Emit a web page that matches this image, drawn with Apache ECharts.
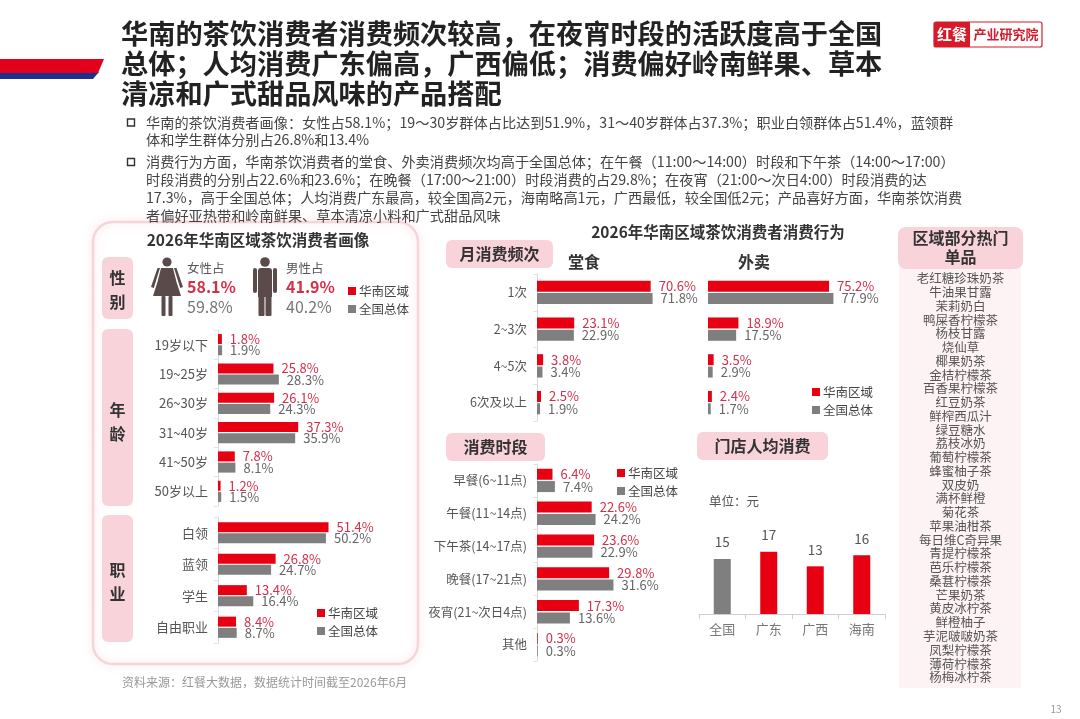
<!DOCTYPE html>
<html>
<head>
<meta charset="utf-8" />
<title>华南区域茶饮消费者</title>
<script src="https://cdn.jsdelivr.net/npm/echarts@6.0.0/dist/echarts.min.js"></script>
<style>
  html, body { margin: 0; padding: 0; background: #fff; }
  #main { width: 1080px; height: 719px; }
</style>
</head>
<body>
<div id="main"></div>
<script type="text/javascript">
// ---- 数据 ----
var genderSouth = [58.1, 41.9];
var genderNation = [59.8, 40.2];

var ageCats = ['19岁以下', '19~25岁', '26~30岁', '31~40岁', '41~50岁', '50岁以上'];
var ageSouth = [1.8, 25.8, 26.1, 37.3, 7.8, 1.2];
var ageNation = [1.9, 28.3, 24.3, 35.9, 8.1, 1.5];

var jobCats = ['白领', '蓝领', '学生', '自由职业'];
var jobSouth = [51.4, 26.8, 13.4, 8.4];
var jobNation = [50.2, 24.7, 16.4, 8.7];

var freqCats = ['1次', '2~3次', '4~5次', '6次及以上'];
var dineSouth = [70.6, 23.1, 3.8, 2.5];
var dineNation = [71.8, 22.9, 3.4, 1.9];
var takeSouth = [75.2, 18.9, 3.5, 2.4];
var takeNation = [77.9, 17.5, 2.9, 1.7];

var slotCats = ['早餐(6~11点)', '午餐(11~14点)', '下午茶(14~17点)', '晚餐(17~21点)', '夜宵(21~次日4点)', '其他'];
var slotSouth = [6.4, 22.6, 23.6, 29.8, 17.3, 0.3];
var slotNation = [7.4, 24.2, 22.9, 31.6, 13.6, 0.3];

var spendCats = ['全国', '广东', '广西', '海南'];
var spendValues = [15, 17, 13, 16];

var hotItems = ['老红糖珍珠奶茶', '牛油果甘露', '茉莉奶白', '鸭屎香柠檬茶', '杨枝甘露', '烧仙草',
  '椰果奶茶', '金桔柠檬茶', '百香果柠檬茶', '红豆奶茶', '鲜榨西瓜汁', '绿豆糖水', '荔枝冰奶',
  '葡萄柠檬茶', '蜂蜜柚子茶', '双皮奶', '满杯鲜橙', '菊花茶', '苹果油柑茶', '每日维C奇异果',
  '青提柠檬茶', '芭乐柠檬茶', '桑葚柠檬茶', '芒果奶茶', '黄皮冰柠茶', '鲜橙柚子', '芋泥啵啵奶茶',
  '凤梨柠檬茶', '薄荷柠檬茶', '杨梅冰柠茶'];

var titleLines = ['华南的茶饮消费者消费频次较高，在夜宵时段的活跃度高于全国',
  '总体；人均消费广东偏高，广西偏低；消费偏好岭南鲜果、草本',
  '清凉和广式甜品风味的产品搭配'];
var bullet1 = ['华南的茶饮消费者画像：女性占58.1%；19～30岁群体占比达到51.9%，31～40岁群体占37.3%；职业白领群体占51.4%，蓝领群',
  '体和学生群体分别占26.8%和13.4%'];
var bullet2 = ['消费行为方面，华南茶饮消费者的堂食、外卖消费频次均高于全国总体；在午餐（11:00～14:00）时段和下午茶（14:00～17:00）',
  '时段消费的分别占22.6%和23.6%；在晚餐（17:00～21:00）时段消费的占29.8%；在夜宵（21:00～次日4:00）时段消费的达',
  '17.3%，高于全国总体；人均消费广东最高，较全国高2元，海南略高1元，广西最低，较全国低2元；产品喜好方面，华南茶饮消费',
  '者偏好亚热带和岭南鲜果、草本清凉小料和广式甜品风味'];

// ---- 样式 ----
var RED = '#e60012';
var GRAY = '#7f7f7f';
var RED_TXT = '#d4304a';
var GRAY_TXT = '#666';
var PINK = '#f9d3da';
var FONT = '"Noto Sans CJK SC", "Noto Sans", sans-serif';

var myChart = echarts.init(document.getElementById('main'));

function pct(p) { return p.value.toFixed(1) + '%'; }

function grid(l, t, w, h) {
  return { left: l, top: t, width: w, height: h, containLabel: false, outerBoundsMode: 'none' };
}

function catAxis(idx, cats, showLabel, showLine, fs) {
  return {
    type: 'category', gridIndex: idx, data: cats, inverse: true, z: 20,
    axisLine: { show: showLine, lineStyle: { color: '#d9d9d9' } },
    axisTick: { show: showLine, length: 4, lineStyle: { color: '#e3e3e3' } },
    axisLabel: { show: showLabel, color: '#555', fontSize: fs || 12.5, margin: 10, fontFamily: FONT }
  };
}

function valAxis(idx, max) {
  return { type: 'value', gridIndex: idx, min: 0, max: max, show: false };
}

function barPair(idx, south, nation, w) {
  return [
    {
      type: 'bar', name: '华南区域', xAxisIndex: idx, yAxisIndex: idx, data: south, z: 20,
      barWidth: w, barGap: '12%', itemStyle: { color: RED }, silent: true,
      label: { show: true, position: 'right', distance: 8, formatter: pct, color: RED_TXT, fontSize: 13, fontFamily: FONT }
    },
    {
      type: 'bar', name: '全国总体', xAxisIndex: idx, yAxisIndex: idx, data: nation, z: 20,
      barWidth: w, barGap: '12%', itemStyle: { color: GRAY }, silent: true,
      label: { show: true, position: 'right', distance: 8, formatter: pct, color: GRAY_TXT, fontSize: 13, fontFamily: FONT }
    }
  ];
}

// ---- 图形元素 ----
var g = [];
function txt(x, y, s, size, color, opt) {
  opt = opt || {};
  g.push({
    type: 'text', x: x, y: y, z: 10, silent: true,
    style: {
      text: s, fill: color, textAlign: opt.align || 'left', textVerticalAlign: 'middle', textBaseline: 'middle',
      font: (opt.bold ? 'bold ' : '') + size + 'px ' + FONT
    }
  });
}
function rect(x, y, w, h, fill, r, opt) {
  opt = opt || {};
  g.push({
    type: 'rect', z: opt.z || 1, silent: true,
    shape: { x: x, y: y, width: w, height: h, r: r || 0 },
    style: { fill: fill, stroke: opt.stroke || null, lineWidth: opt.lw || 0,
      shadowBlur: opt.blur || 0, shadowColor: opt.shadow || 'transparent' }
  });
}
function poly(pts, fill, z) {
  g.push({ type: 'polygon', z: z || 2, silent: true, shape: { points: pts }, style: { fill: fill } });
}
function legend(x, y) {
  rect(x, y - 4, 8, 8, RED, 0, { z: 5 });
  txt(x + 11, y, '华南区域', 12.5, '#444');
  rect(x, y + 14, 8, 8, GRAY, 0, { z: 5 });
  txt(x + 11, y + 18, '全国总体', 12.5, '#444');
}

// 左上色带
poly([[0, 72], [99, 72], [93, 79], [0, 79]], '#1f2f8f', 1);
poly([[0, 59], [104, 59], [98, 73], [0, 73]], '#e3001b', 2);

// 标题
titleLines.forEach(function (s, i) { txt(121, 34 + i * 30, s, 27.2, '#222', { bold: true }); });

// logo
rect(934, 22, 108, 25, '#fff', 2, { stroke: '#d71a2a', lw: 1.2 });
rect(934, 22, 36, 25, '#d71a2a', [2, 0, 0, 2], { z: 2 });
txt(952, 34.5, '红餐', 15, '#fff', { bold: true, align: 'center' });
txt(1006, 34.5, '产业研究院', 13, '#d71a2a', { bold: true, align: 'center' });

// 说明要点
g.push({ type: 'rect', z: 5, silent: true, shape: { x: 127.5, y: 119, width: 7, height: 7 }, style: { fill: 'none', stroke: '#333', lineWidth: 1.4 } });
g.push({ type: 'rect', z: 5, silent: true, shape: { x: 127.5, y: 158.5, width: 7, height: 7 }, style: { fill: 'none', stroke: '#333', lineWidth: 1.4 } });
bullet1.forEach(function (s, i) { txt(146, 122.5 + i * 17.5, s, 14.2, '#444'); });
bullet2.forEach(function (s, i) { txt(146, 162 + i * 18, s, 14.2, '#444'); });

// 左侧面板
rect(93, 222, 325, 442, 'none', 20, { stroke: '#f5d5da', lw: 2.5, blur: 8, shadow: 'rgba(235,140,155,0.35)', z: 0 });
txt(258, 240, '2026年华南区域茶饮消费者画像', 15.5, '#333', { bold: true, align: 'center' });
rect(102, 257, 31, 62, PINK, 6);
txt(117.5, 278, '性', 16, '#333', { bold: true, align: 'center' });
txt(117.5, 302, '别', 16, '#333', { bold: true, align: 'center' });
rect(102, 329, 31, 177, PINK, 6);
txt(117.5, 410, '年', 16, '#333', { bold: true, align: 'center' });
txt(117.5, 434, '龄', 16, '#333', { bold: true, align: 'center' });
rect(102, 515, 31, 127, PINK, 6);
txt(117.5, 570, '职', 16, '#333', { bold: true, align: 'center' });
txt(117.5, 594, '业', 16, '#333', { bold: true, align: 'center' });

// 性别图标
var ICON = '#5b4a4a';
g.push({ type: 'circle', z: 3, silent: true, shape: { cx: 167, cy: 262, r: 4.6 }, style: { fill: ICON } });
poly([[161, 268], [173, 268], [176.5, 282], [181, 296], [153, 296], [157.5, 282]], ICON, 3);
poly([[160, 268], [157.5, 268], [151, 287], [153.8, 288]], ICON, 3);
poly([[174, 268], [176.5, 268], [183, 287], [180.2, 288]], ICON, 3);
rect(161.5, 296, 4, 20, ICON, 1, { z: 3 });
rect(168.5, 296, 4, 20, ICON, 1, { z: 3 });

g.push({ type: 'circle', z: 3, silent: true, shape: { cx: 265, cy: 262, r: 4.8 }, style: { fill: ICON } });
rect(258, 268, 14, 29, ICON, [3, 3, 0, 0], { z: 3 });
rect(253, 268, 4, 25, ICON, 2, { z: 3 });
rect(273, 268, 4, 25, ICON, 2, { z: 3 });
rect(258.5, 296, 6, 20, ICON, 1, { z: 3 });
rect(265.5, 296, 6, 20, ICON, 1, { z: 3 });

txt(187, 268, '女性占', 12.5, '#555');
txt(187, 287, genderSouth[0].toFixed(1) + '%', 16, RED_TXT, { bold: true });
txt(187, 307, genderNation[0].toFixed(1) + '%', 16, '#777');
txt(286, 268, '男性占', 12.5, '#555');
txt(286, 287, genderSouth[1].toFixed(1) + '%', 16, RED_TXT, { bold: true });
txt(286, 307, genderNation[1].toFixed(1) + '%', 16, '#777');
legend(348, 291);
legend(317, 613);

// 中部
txt(718, 232, '2026年华南区域茶饮消费者消费行为', 15.5, '#333', { bold: true, align: 'center' });
rect(446, 240, 107, 28, PINK, 6);
txt(499.5, 254, '月消费频次', 16, '#333', { bold: true, align: 'center' });
txt(568, 262, '堂食', 16, '#333', { bold: true });
txt(738, 262, '外卖', 16, '#333', { bold: true });
legend(812, 392);

rect(446, 433, 99, 28, PINK, 6);
txt(495.5, 447, '消费时段', 16, '#333', { bold: true, align: 'center' });
legend(617, 473);

rect(697, 432, 131, 28, PINK, 6);
txt(762.5, 446, '门店人均消费', 16, '#333', { bold: true, align: 'center' });
txt(709, 501, '单位：元', 12.5, '#555');

// 右侧热门单品
rect(898, 227, 125, 42, PINK, 8, { z: 2 });
rect(899, 262, 122, 426, '#fdf2f4', 0, { z: 1 });
txt(960.5, 238, '区域部分热门', 16, '#333', { bold: true, align: 'center' });
txt(960.5, 257, '单品', 16, '#333', { bold: true, align: 'center' });
hotItems.forEach(function (s, i) { txt(960.5, 278.5 + i * 13.76, s, 12.5, '#555', { align: 'center' }); });

// 来源与页码
txt(122, 682, '资料来源：红餐大数据，数据统计时间截至2026年6月', 12, '#999');
txt(1056, 709, '13', 10, '#999', { align: 'center' });

var option = {
  backgroundColor: '#fff',
  animation: false,
  textStyle: { fontFamily: FONT },
  grid: [
    grid(218, 330, 215, 176),   // 年龄
    grid(218, 517, 215, 126),   // 职业
    grid(537, 274, 161, 147),   // 堂食
    grid(708, 274, 161, 147),   // 外卖
    grid(537, 464, 242, 197),   // 消费时段
    grid(699, 504, 186, 110)    // 人均消费
  ],
  xAxis: [
    valAxis(0, 100), valAxis(1, 100), valAxis(2, 100), valAxis(3, 100), valAxis(4, 100),
    {
      type: 'category', gridIndex: 5, data: spendCats, z: 20,
      axisLine: { lineStyle: { color: '#cfcfcf' } },
      axisTick: { show: true, length: 5, lineStyle: { color: '#cfcfcf' } },
      axisLabel: { color: '#777', fontSize: 13, margin: 9, fontFamily: FONT }
    }
  ],
  yAxis: [
    catAxis(0, ageCats, true, true, 13),
    catAxis(1, jobCats, true, true, 13),
    catAxis(2, freqCats, true, true, 12.5),
    catAxis(3, freqCats, false, false),
    catAxis(4, slotCats, true, true, 12.5),
    { type: 'value', gridIndex: 5, min: 0, max: 30, show: false }
  ],
  series: [].concat(
    barPair(0, ageSouth, ageNation, 10),
    barPair(1, jobSouth, jobNation, 10),
    barPair(2, dineSouth, dineNation, 11),
    barPair(3, takeSouth, takeNation, 11),
    barPair(4, slotSouth, slotNation, 11),
    [{
      type: 'bar', xAxisIndex: 5, yAxisIndex: 5, barWidth: 17, silent: true, z: 20,
      data: spendValues.map(function (v, i) {
        return { value: v, itemStyle: { color: i === 0 ? GRAY : RED } };
      }),
      label: { show: true, position: 'top', distance: 10, color: '#555', fontSize: 13.5, fontFamily: FONT }
    }]
  ),
  graphic: g
};

myChart.setOption(option);
</script>
</body>
</html>
